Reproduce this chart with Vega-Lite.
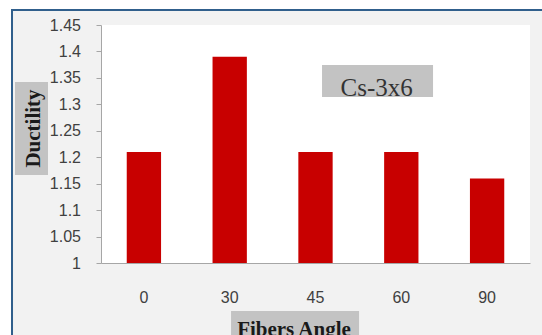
{
  "$schema": "https://vega.github.io/schema/vega-lite/v6.json",
  "width": 429,
  "height": 238,
  "autosize": {"type": "none"},
  "padding": {"left": 101, "top": 25, "right": 12, "bottom": 72},
  "background": "white",
  "config": {
    "view": {"stroke": null, "fill": null},
    "axis": {
      "grid": false,
      "domainColor": "#a6a6a6",
      "tickColor": "#a6a6a6",
      "labelFont": "Liberation Sans",
      "labelFontSize": 16,
      "labelColor": "#404040",
      "labelOverlap": false,
      "titleFont": "Liberation Serif",
      "titleFontSize": 21,
      "titleFontWeight": "bold",
      "titleColor": "#1a1a1a"
    }
  },
  "datasets": {
    "ductility": [
      {"angle": "0", "ductility": 1.21},
      {"angle": "30", "ductility": 1.39},
      {"angle": "45", "ductility": 1.21},
      {"angle": "60", "ductility": 1.21},
      {"angle": "90", "ductility": 1.16}
    ],
    "note": [{"label": "Cs-3x6"}]
  },
  "layer": [
    {
      "description": "Panel frame behind the chart; also carries the shared scales and axes",
      "data": {"name": "note"},
      "mark": {"type": "rect", "fill": "#f2f2f2", "stroke": "#305f8c", "strokeWidth": 2},
      "encoding": {
        "x": {
          "datum": "0", "type": "nominal", "bandPosition": -3.343,
          "scale": {"domain": ["0", "30", "45", "60", "90"], "paddingInner": 0.6, "paddingOuter": 0.3},
          "axis": {
            "zindex": 2,
            "title": "Fibers Angle",
            "labelAngle": 0,
            "ticks": false,
            "labelPadding": 26,
            "titleX": 192.5,
            "titleY": 72.6,
            "titleAlign": "center",
            "titleBaseline": "alphabetic"
          }
        },
        "x2": {"datum": "90", "bandPosition": 2.7},
        "y": {
          "datum": 1.4784, "type": "quantitative",
          "scale": {"domain": [1, 1.45], "zero": false, "nice": false},
          "axis": {
            "zindex": 2,
            "title": "Ductility",
            "values": [1, 1.05, 1.1, 1.15, 1.2, 1.25, 1.3, 1.35, 1.4, 1.45],
            "tickCount": 12,
            "format": ".2~f",
            "labelOverlap": false,
            "tickSize": 5,
            "labelPadding": 15.5,
            "titleX": -61.7,
            "titleY": 103,
            "titleAlign": "center",
            "titleBaseline": "alphabetic"
          }
        },
        "y2": {"datum": 0.82}
      }
    },
    {
      "description": "White plot area",
      "data": {"name": "note"},
      "mark": {"type": "rect", "fill": "white"},
      "encoding": {
        "x": {"datum": "0", "type": "nominal", "bandPosition": -0.75},
        "x2": {"datum": "90", "bandPosition": 1.75},
        "y": {"datum": 1.45, "type": "quantitative"},
        "y2": {"datum": 1}
      }
    },
    {
      "description": "Shaded box behind the x axis title",
      "data": {"name": "note"},
      "mark": {"type": "rect", "fill": "#c3c3c3"},
      "encoding": {
        "x": {"datum": "30", "type": "nominal", "bandPosition": 0.539},
        "x2": {"datum": "45", "bandPosition": 1.769},
        "y": {"datum": 0.9092, "type": "quantitative"},
        "y2": {"datum": 0.83}
      }
    },
    {
      "description": "Shaded box behind the y axis title",
      "data": {"name": "note"},
      "mark": {"type": "rect", "fill": "#c3c3c3"},
      "encoding": {
        "x": {"datum": "0", "type": "nominal", "bandPosition": -3.256},
        "x2": {"datum": "0", "bandPosition": -2.294},
        "y": {"datum": 1.3422, "type": "quantitative"},
        "y2": {"datum": 1.1664}
      }
    },
    {
      "description": "Shaded box of the series label",
      "data": {"name": "note"},
      "mark": {"type": "rect", "fill": "#c3c3c3"},
      "encoding": {
        "x": {"datum": "45", "type": "nominal", "bandPosition": 0.69},
        "x2": {"datum": "60", "bandPosition": 1.425},
        "y": {"datum": 1.3744, "type": "quantitative"},
        "y2": {"datum": 1.3139}
      }
    },
    {
      "data": {"name": "ductility"},
      "mark": {"type": "bar", "color": "#c80000"},
      "encoding": {
        "x": {"field": "angle", "type": "nominal", "sort": null},
        "y": {"field": "ductility", "type": "quantitative"},
        "y2": {"datum": 1}
      }
    },
    {
      "data": {"name": "note"},
      "mark": {"type": "text", "font": "Liberation Serif", "fontSize": 25, "color": "#333333", "align": "center", "baseline": "alphabetic"},
      "encoding": {
        "x": {"datum": "60", "type": "nominal", "bandPosition": -0.22},
        "y": {"datum": 1.3157, "type": "quantitative"},
        "text": {"field": "label"}
      }
    }
  ]
}
